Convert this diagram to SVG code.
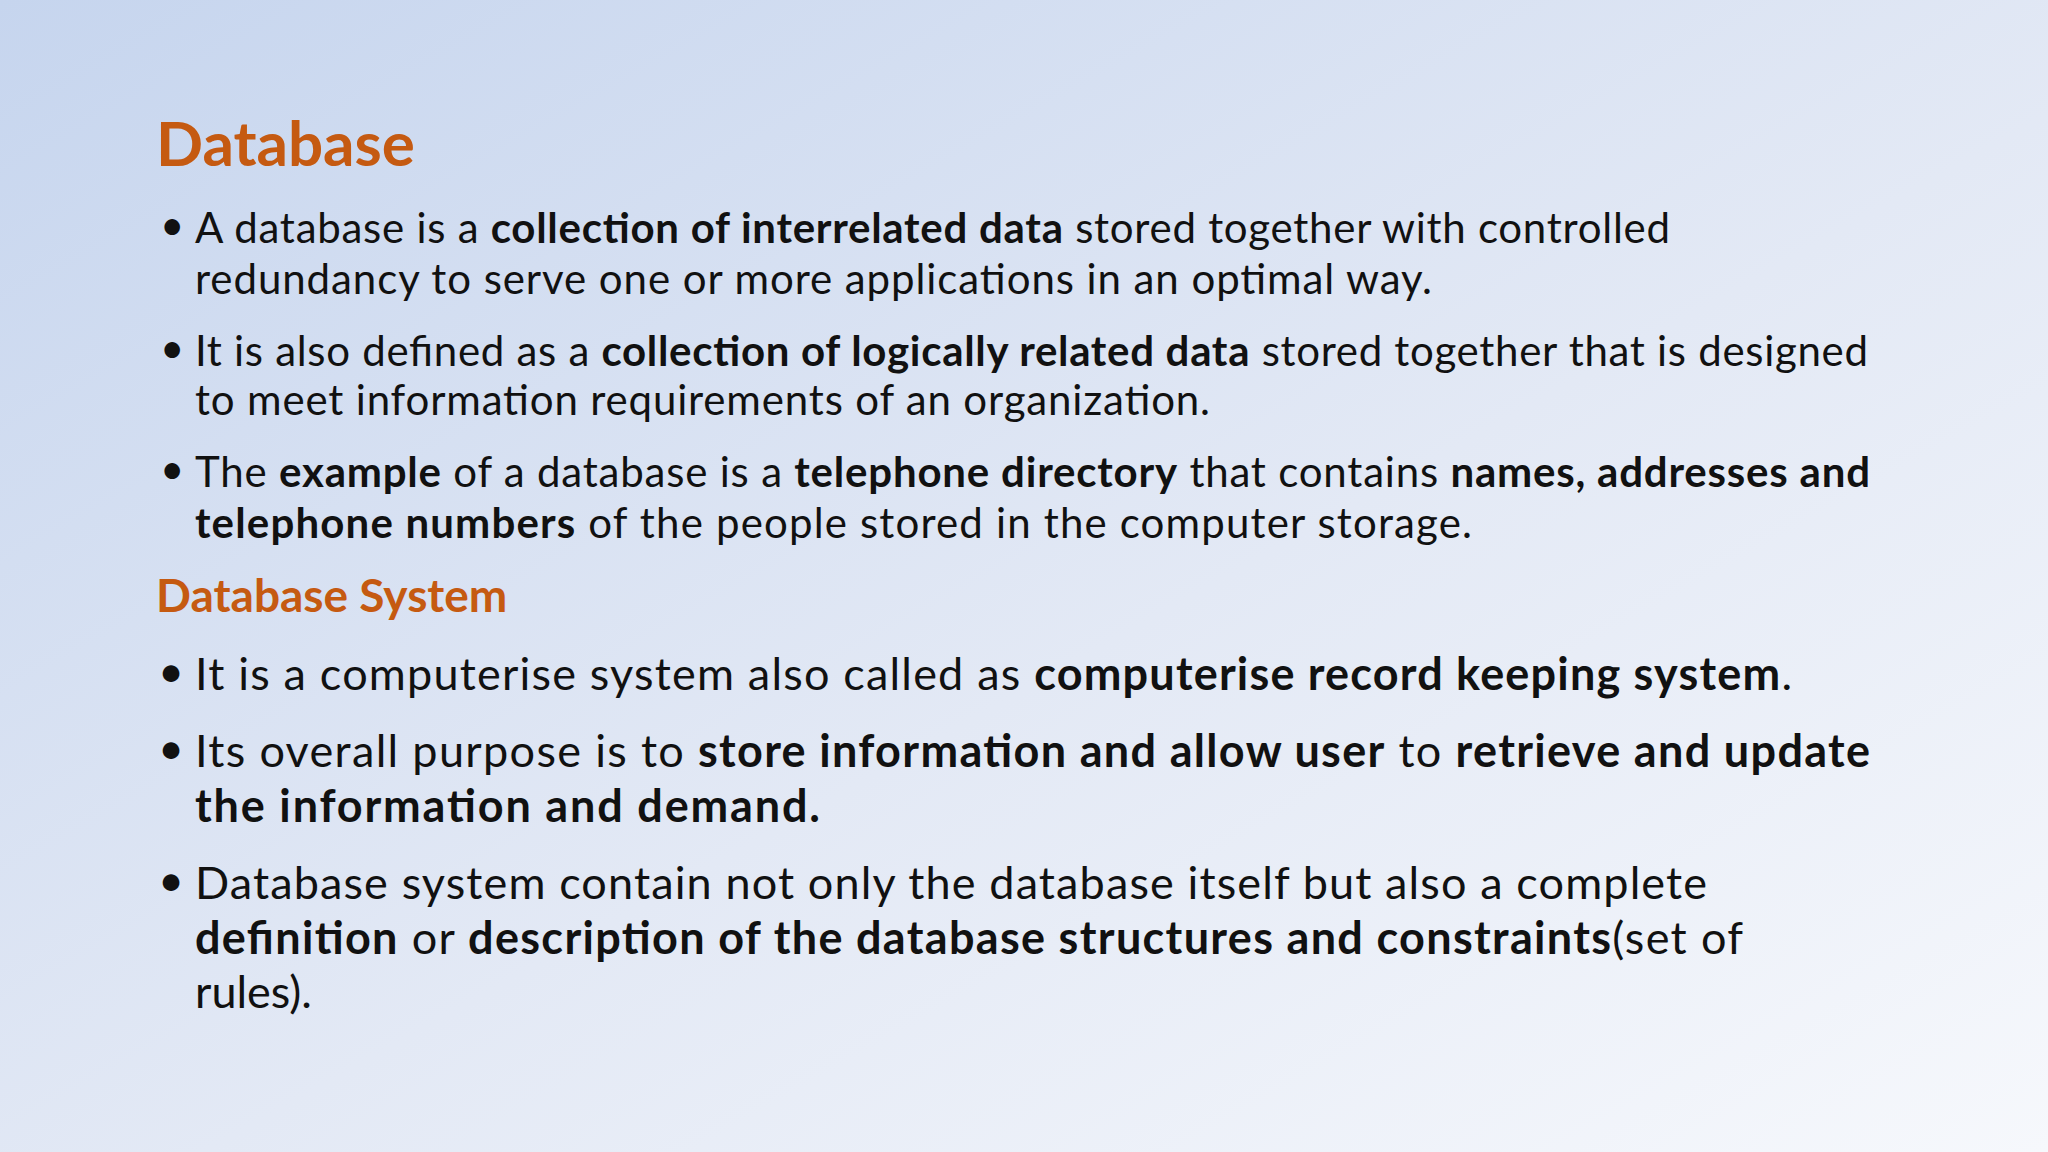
<svg xmlns="http://www.w3.org/2000/svg" width="2048" height="1152" viewBox="0 0 2048 1152">
<defs>
<linearGradient id="bg" x1="0" y1="0" x2="1" y2="1">
<stop offset="0" stop-color="#c6d5ee"/>
<stop offset="0.55" stop-color="#e3e9f5"/>
<stop offset="1" stop-color="#f6f8fc"/>
</linearGradient>
<style>
text{font-family:Lato,"Noto Sans","Liberation Sans",sans-serif;fill:#111}
.h{fill:#c55a11;font-weight:bold}
.a{font-size:42px}
.b{font-size:45px}
.k{font-weight:bold}
</style>
</defs>
<rect width="2048" height="1152" fill="url(#bg)"/>
<text class="h" x="156" y="166" font-size="62">Database</text>
<g class="a">
<text x="160" y="240">•</text>
<text x="195" y="243" textLength="1475" lengthAdjust="spacing">A database is a <tspan class="k">collection of interrelated data</tspan> stored together with controlled</text>
<text x="195" y="294" textLength="1237" lengthAdjust="spacing">redundancy to serve one or more applications in an optimal  way.</text>
<text x="160" y="363">•</text>
<text x="195" y="366" textLength="1673" lengthAdjust="spacing">It is also defined as a <tspan class="k">collection of logically related data</tspan> stored together that is designed</text>
<text x="195" y="415" textLength="1015" lengthAdjust="spacing">to meet information requirements of an organization.</text>
<text x="160" y="484">•</text>
<text x="195" y="487" textLength="1675" lengthAdjust="spacing">The <tspan class="k">example</tspan> of a database is a <tspan class="k">telephone directory</tspan> that contains <tspan class="k">names, addresses and</tspan></text>
<text x="195" y="538" textLength="1277" lengthAdjust="spacing"><tspan class="k">telephone numbers</tspan> of the people stored in the   computer storage.</text>
</g>
<text class="h" x="156" y="612" font-size="46">Database System</text>
<g class="b">
<text x="158" y="687">•</text>
<text x="195" y="690" textLength="1597" lengthAdjust="spacing">It is a computerise system also called as <tspan class="k">computerise record keeping system</tspan>.</text>
<text x="158" y="764">•</text>
<text x="195" y="767" textLength="1675" lengthAdjust="spacing">Its overall purpose is to <tspan class="k">store information and allow user</tspan> to <tspan class="k">retrieve and update</tspan></text>
<text x="195" y="822" textLength="625" lengthAdjust="spacing" class="k">the information and demand.</text>
<text x="158" y="896">•</text>
<text x="195" y="899" textLength="1512" lengthAdjust="spacing">Database system contain not only the database itself but also a complete</text>
<text x="195" y="954" textLength="1548" lengthAdjust="spacing"><tspan class="k">definition</tspan> or <tspan class="k">description of the database structures and constraints</tspan>(set of</text>
<text x="195" y="1008">rules).</text>
</g>
</svg>
